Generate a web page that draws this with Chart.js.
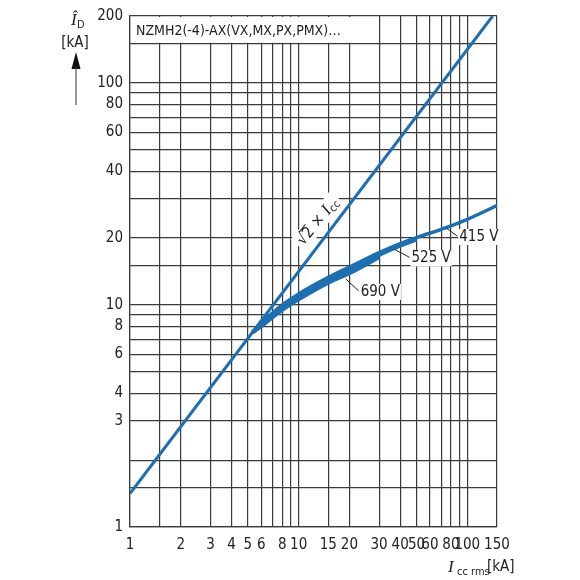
<!DOCTYPE html>
<html>
<head>
<meta charset="utf-8">
<script src="https://cdn.jsdelivr.net/npm/chart.js@4.4.1/dist/chart.umd.min.js"></script>
<style>
  html, body { margin: 0; padding: 0; background: #fff; }
  #wrap { width: 580px; height: 580px; position: relative; }
</style>
</head>
<body>
<div id="wrap"><canvas id="chart"></canvas></div>
<script>
// grid lines and tick labels
const xGrid = [1, 1.5, 2, 3, 4, 5, 6, 7, 8, 9, 10, 15, 20, 30, 40, 50, 60, 70, 80, 90, 100, 150];
const xLabels = [1, 2, 3, 4, 5, 6, 8, 10, 15, 20, 30, 40, 50, 60, 80, 100, 150];
const yGrid = [1, 1.5, 2, 3, 4, 5, 6, 7, 8, 9, 10, 15, 20, 30, 40, 50, 60, 70, 80, 90, 100, 150, 200];
const yLabels = [1, 3, 4, 6, 8, 10, 20, 40, 60, 80, 100, 200];

// sqrt(2) x Icc line
const iccPeak = [1, 141.4];
const ipPeak = [1.414, 200];

// let-through curves per voltage
const icc415 = [5.3, 6, 7, 8, 10, 15, 20, 30, 40, 50, 75, 100, 150];
const ip415 = [7.5, 8.3, 9.2, 10.0, 11.2, 13.3, 14.8, 17.2, 18.9, 20.1, 22.3, 24.3, 28];
const icc525 = [5.3, 6, 7, 8, 10, 15, 20, 30, 40, 50];
const ip525 = [7.5, 8.15, 9.0, 9.75, 10.9, 12.95, 14.35, 16.8, 18.5, 19.7];
const icc690 = [5.3, 6, 7, 8, 10, 15, 20, 30];
const ip690 = [7.5, 8.0, 8.8, 9.5, 10.6, 12.6, 13.9, 16.4];

const BLUE = '#1c6fb3';
const GRID = '#3a3a3a';
const FONT = "'Liberation Sans Narrow', 'DejaVu Sans Condensed', 'Open Sans', sans-serif";
const SERIF = "'Liberation Serif', 'DejaVu Serif', serif";

function zip(xs, ys) {
  return xs.map((v, i) => ({ x: v, y: ys[i] }));
}

function curve(xs, ys, w) {
  return {
    data: zip(xs, ys),
    borderColor: BLUE,
    borderWidth: w,
    pointRadius: 0,
    fill: false,
    cubicInterpolationMode: 'monotone'
  };
}

// text with white box behind it
function boxedText(ctx, txt, x, y) {
  const w = ctx.measureText(txt).width;
  ctx.fillStyle = '#fff';
  ctx.fillRect(x - 1, y - 8, w + 2, 16);
  ctx.fillStyle = '#222';
  ctx.fillText(txt, x, y);
}

const decor = {
  id: 'decor',
  beforeDatasetsDraw(chart) {
    const { ctx, scales: { x, y } } = chart;
    ctx.save();
    // title box on top of the grid
    const x0 = x.left + 1, x1 = x.getPixelForValue(28);
    const y0 = y.top + 1, y1 = y.getPixelForValue(150) - 1;
    ctx.fillStyle = '#fff';
    ctx.fillRect(x0, y0, x1 - x0, y1 - y0);
    ctx.fillStyle = '#222';
    ctx.font = '14px ' + FONT;
    ctx.textBaseline = 'middle';
    ctx.fillText('NZMH2(-4)-AX(VX,MX,PX,PMX)…', x.left + 6, (y0 + y1) / 2 + 1);
    ctx.restore();
  },
  afterDatasetsDraw(chart) {
    const { ctx, scales: { x, y } } = chart;
    ctx.save();
    ctx.textBaseline = 'middle';
    ctx.font = '15px ' + FONT;

    // voltage labels with leader lines
    const notes = [
      { t: '415 V', x: 75, y: 22.2, dx: 11, dy: 8 },
      { t: '525 V', x: 37, y: 17.8, dx: 15, dy: 8 },
      { t: '690 V', x: 19, y: 13.1, dx: 13, dy: 12 }
    ];
    notes.forEach(n => {
      const px = x.getPixelForValue(n.x), py = y.getPixelForValue(n.y);
      ctx.strokeStyle = '#222';
      ctx.lineWidth = 1;
      ctx.beginPath();
      ctx.moveTo(px, py);
      ctx.lineTo(px + n.dx, py + n.dy);
      ctx.stroke();
      boxedText(ctx, n.t, px + n.dx + 2, py + n.dy + 1);
    });

    // sqrt(2) x Icc label, rotated along the line
    const cx = x.getPixelForValue(13.0), cy = y.getPixelForValue(23.7);
    ctx.translate(cx, cy);
    ctx.rotate(-51 * Math.PI / 180);
    const a = '√2 × ';
    ctx.font = 'italic 17px ' + SERIF;
    const wi = ctx.measureText('I').width;
    ctx.font = '11px ' + FONT;
    const ws = ctx.measureText('cc').width;
    ctx.font = '16px ' + FONT;
    const wa = ctx.measureText(a).width;
    const tot = wa + wi + ws;
    ctx.fillStyle = '#fff';
    ctx.fillRect(-tot / 2 - 3, -10, tot + 6, 19);
    ctx.fillStyle = '#222';
    ctx.fillText(a, -tot / 2, 0);
    const w1 = ctx.measureText('√').width, w2 = ctx.measureText('2').width;
    ctx.strokeStyle = '#222';
    ctx.lineWidth = 1;
    ctx.beginPath();
    ctx.moveTo(-tot / 2 + w1 - 1, -8);
    ctx.lineTo(-tot / 2 + w1 + w2, -8);
    ctx.stroke();
    ctx.font = 'italic 17px ' + SERIF;
    ctx.fillText('I', -tot / 2 + wa, 0);
    ctx.font = '11px ' + FONT;
    ctx.fillText('cc', -tot / 2 + wa + wi, 4);
    ctx.setTransform(1, 0, 0, 1, 0, 0);
    ctx.restore();

    // y axis title and arrow
    ctx.save();
    ctx.fillStyle = '#222';
    ctx.textBaseline = 'alphabetic';
    ctx.font = 'italic 17px ' + SERIF;
    ctx.fillText('Î', 71, 25);
    ctx.font = '11px ' + FONT;
    ctx.fillText('D', 77, 28);
    ctx.font = '15px ' + FONT;
    ctx.textAlign = 'center';
    ctx.fillText('[kA]', 75, 47);
    ctx.fillStyle = '#111';
    ctx.beginPath();
    ctx.moveTo(76, 52);
    ctx.lineTo(71.5, 69);
    ctx.lineTo(80.5, 69);
    ctx.closePath();
    ctx.fill();
    ctx.strokeStyle = '#555';
    ctx.lineWidth = 1.2;
    ctx.beginPath();
    ctx.moveTo(76, 68);
    ctx.lineTo(76, 105);
    ctx.stroke();

    // x axis title
    ctx.textAlign = 'left';
    ctx.fillStyle = '#222';
    ctx.font = 'italic 17px ' + SERIF;
    ctx.fillText('I', 448, 572);
    ctx.font = '11px ' + FONT;
    ctx.fillText('cc rms', 457, 575);
    ctx.font = '15px ' + FONT;
    ctx.fillText('[kA]', 487, 571);
    ctx.restore();
  }
};

new Chart(document.getElementById('chart'), {
  type: 'line',
  data: {
    datasets: [
      { data: zip(iccPeak, ipPeak), borderColor: BLUE, borderWidth: 3, pointRadius: 0, fill: false },
      curve(icc690, ip690, 4),
      curve(icc525, ip525, 4),
      curve(icc415, ip415, 3.5)
    ]
  },
  options: {
    responsive: true,
    maintainAspectRatio: false,
    animation: false,
    layout: { padding: { top: 8, right: 83, bottom: 0, left: 0 } },
    plugins: { legend: { display: false }, tooltip: { enabled: false } },
    scales: {
      x: {
        type: 'logarithmic',
        min: 1,
        max: 150,
        afterBuildTicks: s => { s.ticks = xGrid.map(v => ({ value: v })); },
        afterFit: s => { s.height = 53; },
        grid: { color: GRID, lineWidth: 1.2, drawTicks: false },
        border: { color: GRID, width: 1.2 },
        ticks: {
          autoSkip: false, maxRotation: 0, minRotation: 0, padding: 9,
          color: '#222', font: { family: FONT, size: 15 },
          callback: v => xLabels.includes(v) ? String(v) : ''
        }
      },
      y: {
        type: 'logarithmic',
        min: 1,
        max: 200,
        afterBuildTicks: s => { s.ticks = yGrid.map(v => ({ value: v })); },
        afterFit: s => { s.width = 130; },
        grid: { color: GRID, lineWidth: 1.2, drawTicks: false },
        border: { color: GRID, width: 1.2 },
        ticks: {
          autoSkip: false, padding: 7,
          color: '#222', font: { family: FONT, size: 15 },
          callback: v => yLabels.includes(v) ? String(v) : ''
        }
      }
    }
  },
  plugins: [decor]
});
</script>
</body>
</html>
